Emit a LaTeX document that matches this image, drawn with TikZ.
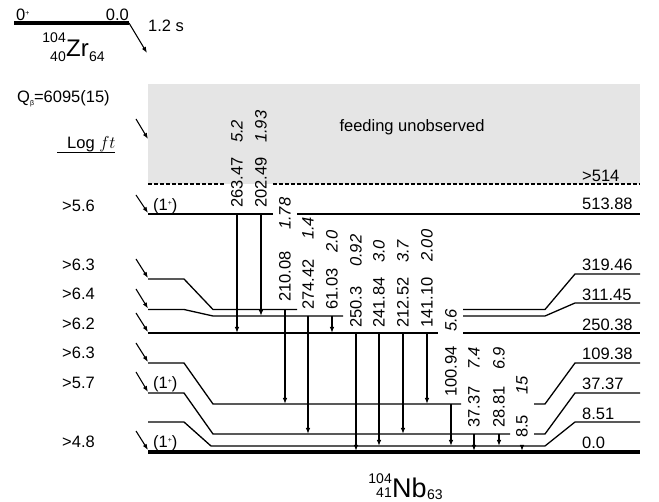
\documentclass[tikz,border=0pt]{standalone}
\usepackage{fontspec}
\setmainfont{Liberation Sans}
\usetikzlibrary{arrows.meta}
\newcommand\fsz[1]{\fontsize{#1}{#1}\selectfont}
\newcommand\supp{\raisebox{5.5pt}{\fsz{7}+}}
\begin{document}
\begin{tikzpicture}[x=1pt,y=-1pt,
  every node/.style={inner sep=0pt,font=\fsz{16.5}},
  lvl/.style={line width=1.3pt},
  gnd/.style={line width=3.3pt},
  tipp/.style={-{Latex[length=6pt,width=4.5pt]}},
  gam/.style={line width=1.2pt,tipp},
  feed/.style={line width=1.1pt,tipp},
  elab/.style={rotate=90,anchor=west},
  ilab/.style={rotate=90,anchor=west,font=\fsz{16.5}\itshape},
  lab/.style={anchor=base west},
]
\useasboundingbox (0,0) rectangle (659,502);

% parent
\draw[gnd] (14,23) -- (129,23);
\coordinate (zrend) at (129,23);
\coordinate (zrtip) at (147,53);
\draw[feed] (zrend) -- (zrtip);
\node[lab] (spin0) at (16,21) {0\supp};
\node[anchor=base east] (e0) at (129,21) {0.0};
\node[lab] (hl) at (148,32) {1.2 s};
\node[anchor=base east,font=\fsz{14}] (zrA) at (66,43) {104};
\node[anchor=base east,font=\fsz{14}] (zrZ) at (66,62) {40};
\node[anchor=base west,font=\fsz{24}] (zrS) at (66,57) {Zr};
\node[anchor=base west,font=\fsz{14}] (zrN) at (89,62) {64};

\node[lab] (qb) at (17,103) {Q\raisebox{-2.5pt}{\fsz{7}β}=6095(15)};
\node[lab] (logft) at (67,149) {Log $ft$};
\draw[line width=1pt] (57,153) -- (115,153);

% unobserved region
\fill[black!10] (148,84) rectangle (640,184);
\draw[line width=1.1pt,dash pattern=on 4pt off 2pt] (148,184) -- (225,184) (273,184) -- (640,184);
\node[anchor=base] (feedu) at (412,132) {feeding unobserved};
\node[lab] (r514) at (582,182) {>514};

% levels
\draw[lvl] (148,214) -- (273,214) (297,214) -- (640,214);
\draw[lvl] (148,279) -- (184,279) -- (213,309.5) -- (297,309.5) (463,309.5) -- (545,309.5) -- (575,274) -- (640,274);
\draw[lvl] (148,309.5) -- (184,309.5) -- (213,316) -- (343,316) (463,316) -- (545,316) -- (575,303) -- (640,303);
\draw[lvl] (148,333) -- (438,333) (463,333) -- (640,333);
\draw[lvl] (148,363) -- (184,363) -- (213,404) -- (461,404) (534,404) -- (545,404) -- (575,363) -- (640,363);
\draw[lvl] (148,393) -- (184,393) -- (213,434) -- (510,434) (534,434) -- (545,434) -- (575,393) -- (640,393);
\draw[lvl] (148,422) -- (184,422) -- (211,446) -- (545,446) -- (575,422) -- (640,422);
\draw[gnd] (148,452) -- (640,452);

% right energy labels
\foreach \y/\t [count=\i] in {210/513.88,271/319.46,301/311.45,331/250.38,360/109.38,390/37.37,420/8.51,449/0.0}
  \node[lab] (rl\i) at (582,\y) {\t};

% left log ft labels
\foreach \y/\t [count=\i] in {212/>5.6,271/>6.3,300/>6.4,330/>6.2,359/>6.3,389/>5.7,448/>4.8}
  \node[lab] (ll\i) at (62,\y) {\t};

% spins
\node[lab] (sp1) at (153,211) {(1\supp)};
\node[lab] (sp2) at (153,389) {(1\supp)};
\node[lab] (sp3) at (153,448) {(1\supp)};

% feeding arrows
\foreach \ya/\yb [count=\i] in {119/139,195/213,259/278,289/308.5,313/332,343/362,372/392,431/450}{
  \coordinate (fa\i) at (136,\ya);
  \coordinate (fb\i) at (148,\yb);
  \draw[feed] (fa\i) -- (fb\i);
}

% gamma transitions
\foreach \x/\ys/\ye/\eb/\ib/\en/\in [count=\i] in {
  237/214/333/208/143/263.47/5.2,
  261/214/316/208/143/202.49/1.93,
  285/309.5/404/302/230/210.08/1.78,
  308/316/434/310/240/274.42/1.4,
  332/316/333/310/253/61.03/2.0,
  356/333/451/328/267/250.3/0.92,
  379/333/446/328/263/241.84/3.0,
  403/333/434/328/263/212.52/3.7,
  427/333/404/328/262/141.10/2.00,
  451/404/446/397/332/100.94/5.6,
  474/434/451/428/370/37.37/7.4,
  499/434/446/428/370/28.81/6.9,
  522/446/451/438/395/8.5/15}{
  \coordinate (gs\i) at (\x,\ys);
  \coordinate (ge\i) at (\x,\ye);
  \draw[gam] (gs\i) -- (ge\i);
  \node[elab] (ge\i lab) at (\x,\eb) {\en};
  \node[ilab] (gi\i lab) at (\x,\ib) {\in};
}

% daughter
\node[anchor=base east,font=\fsz{14}] (nbA) at (392,483) {104};
\node[anchor=base east,font=\fsz{14}] (nbZ) at (392,497) {41};
\node[anchor=base west,font=\fsz{27}] (nbS) at (392,497) {Nb};
\node[anchor=base west,font=\fsz{14}] (nbN) at (427,500) {63};
\end{tikzpicture}
\end{document}
